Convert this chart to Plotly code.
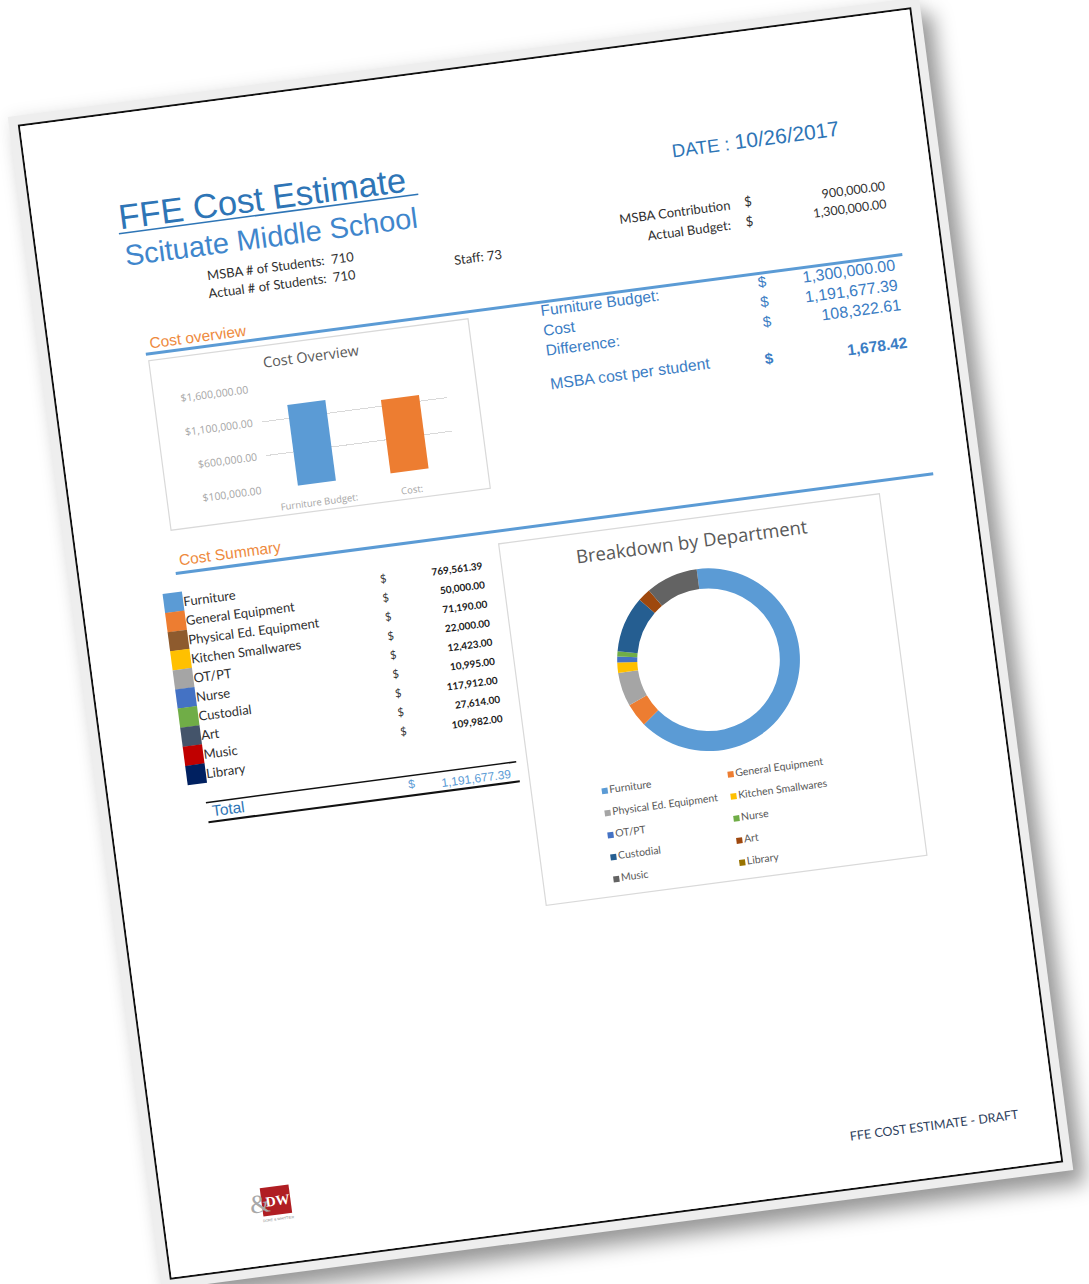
import plotly.graph_objects as go

# ---------------- data ----------------
report_title = "FFE Cost Estimate"
school = "Scituate Middle School"
report_date = "10/26/2017"
msba_students = 710
actual_students = 710
staff = 73
msba_contribution = 900000.00
actual_budget = 1300000.00
furniture_budget = 1300000.00

departments = ["Furniture", "General Equipment", "Physical Ed. Equipment", "Kitchen Smallwares",
               "OT/PT", "Nurse", "Custodial", "Art", "Music", "Library"]
dept_costs = [769561.39, 50000.00, 71190.00, 22000.00, 12423.00, 10995.00,
              117912.00, 27614.00, 109982.00, 0.00]
summary_colors = ["#5B9BD5", "#ED7D31", "#8E5B2E", "#FFC000", "#A5A5A5",
                  "#4472C4", "#70AD47", "#44546A", "#C00000", "#002060"]
donut_colors = ["#5B9BD5", "#ED7D31", "#A5A5A5", "#FFC000", "#4472C4",
                "#70AD47", "#255E91", "#9E480E", "#636363", "#997300"]

overview_labels = ["Furniture Budget:", "Cost:"]
overview_colors = ["#5B9BD5", "#ED7D31"]
overview_ticks = [100000, 600000, 1100000, 1600000]

total_cost = sum(dept_costs)
difference = furniture_budget - total_cost
cost_per_student = total_cost / msba_students
overview_values = [furniture_budget, total_cost]

# ---------------- page geometry helpers ----------------
W, H = 897, 1161


def X(px):
    return px / W


def Y(py):
    return 1 - py / H


def money(v):
    return f"{v:,.2f}"


BLUE = "#2E75B6"
BLUE2 = "#3B7DC4"
ORANGE = "#EE8A3E"
DARK = "#2f2f2f"
GRAY = "#595959"

annotations = []


def note(text, px, base, size, color, anchor="left", family="Liberation Sans", bold=False):
    annotations.append(dict(
        text=f"<b>{text}</b>" if bold else text,
        x=X(px), y=Y(base + 0.22 * size + 1), xref="paper", yref="paper",
        xanchor=anchor, yanchor="bottom", showarrow=False,
        font=dict(size=size, color=color, family=family)))


def cnote(text, px, py, size, color, family="Liberation Sans", bold=False):
    annotations.append(dict(
        text=f"<b>{text}</b>" if bold else text,
        x=X(px), y=Y(py), xref="paper", yref="paper",
        xanchor="center", yanchor="middle", showarrow=False,
        font=dict(size=size, color=color, family=family)))


shapes = []


def hline(x0, x1, py, color, width):
    shapes.append(dict(type="line", xref="paper", yref="paper",
                       x0=X(x0), x1=X(x1), y0=Y(py), y1=Y(py),
                       line=dict(color=color, width=width)))


def box(x0, x1, y0, y1, color, width=1.2, fill=None):
    shapes.append(dict(type="rect", xref="paper", yref="paper",
                       x0=X(x0), x1=X(x1), y0=Y(y1), y1=Y(y0),
                       line=dict(color=color, width=width),
                       fillcolor=fill if fill else "rgba(0,0,0,0)"))


# ---------------- header ----------------
note(report_title, 84, 110, 34.5, BLUE)
hline(84, 386, 113.5, BLUE, 1.5)
note(school, 85, 147, 29, "#3F86CC")
note(f"MSBA # of Students:&nbsp;&nbsp;{msba_students}", 164, 173, 13, DARK, family="Lato")
note(f"Actual # of Students:&nbsp;&nbsp;{actual_students}", 163, 191, 13, DARK, family="Lato")
note(f"Staff: {staff}", 411, 190, 13, DARK, family="Lato")

note(f"DATE :&nbsp;<span style='font-size:21px'>{report_date}</span>", 641, 111, 18.5, BLUE)
note("MSBA Contribution", 696, 171, 13, DARK, anchor="right", family="Lato")
note("$", 706, 170, 13, DARK, family="Lato")
note(money(msba_contribution), 852, 172, 12.5, DARK, anchor="right", family="Lato")
note("Actual Budget:", 694, 191, 13, DARK, anchor="right", family="Lato")
note("$", 705, 190, 13, DARK, family="Lato")
note(money(actual_budget), 851, 191, 12.5, DARK, anchor="right", family="Lato")

# section lines and labels
hline(95, 858, 238, "#5B9BD5", 3)
note("Cost overview", 98, 233, 15.5, ORANGE)
hline(96, 860, 462, "#5B9BD5", 3)
note("Cost Summary", 99, 455, 15.5, ORANGE)

# right info block
rows_info = [("Furniture Budget:", furniture_budget, 253),
             ("Cost", total_cost, 273),
             ("Difference:", difference, 293)]
for lab, val, base in rows_info:
    note(lab, 490, base, 15.5, BLUE2)
    note("$", 709, base, 15, BLUE2)
    note(money(val), 852, base + 1, 16, BLUE2, anchor="right")
note("MSBA cost per student", 490, 328, 15.8, BLUE2)
note("$", 706, 331, 15, BLUE2, bold=True)
note(money(cost_per_student), 853, 333, 15.5, BLUE2, anchor="right", bold=True)

# chart boxes
box(97, 419, 245, 418, "#d9d9d9")
cnote("Cost Overview", 258, 262, 14.5, GRAY, family="Open Sans")
box(420, 804, 475, 844, "#d9d9d9")
cnote("Breakdown by Department", 612, 498, 18.5, GRAY, family="Open Sans")

# totals
hline(96, 409, 696, "#111111", 1.5)
hline(96, 410, 716, "#111111", 2.2)
note("Total", 99, 711, 15.5, BLUE)
note("$", 297, 710, 12, "#5B9BD5")
note(money(total_cost), 404, 713.5, 12, "#5B9BD5", anchor="right")

# footer and logo
note("FFE COST ESTIMATE - DRAFT", 863, 1122, 12.5, "#2d3e5c", anchor="right", family="Lato")
box(99, 128, 1090, 1119, "#B01E23", width=0, fill="#B01E23")
cnote("&", 97, 1106, 26, "#a8a8a8", family="Liberation Serif")
cnote("<b>DW</b>", 115, 1105, 14, "#ffffff", family="Liberation Serif")
cnote("DORE &amp; WHITTIER", 114, 1124, 3.5, "#888888")

# ---------------- traces ----------------
fig = go.Figure()

# bar chart (cost overview)
fig.add_trace(go.Bar(x=overview_labels, y=overview_values, marker=dict(color=overview_colors, line_width=0),
                     width=0.41, xaxis="x", yaxis="y", showlegend=False,
                     hovertemplate="%{x} $%{y:,.2f}<extra></extra>"))

# donut
fig.add_trace(go.Pie(labels=departments, values=dept_costs, hole=0.78, sort=False,
                     direction="clockwise", rotation=0, textinfo="none",
                     marker=dict(colors=donut_colors, line=dict(width=0)),
                     domain=dict(x=[X(613 - 92.5), X(613 + 92.5)], y=[Y(619 + 92.5), Y(619 - 92.5)]),
                     showlegend=False))

# cost summary list (axis 2, page-pixel units)
n = len(departments)
row_py = [481 + 19.5 * (i + 0.5) for i in range(n)]
fig.add_trace(go.Scatter(x=[90] * n, y=row_py, mode="markers", xaxis="x2", yaxis="y2",
                         marker=dict(symbol="square", size=19.5, color=summary_colors, line_width=0),
                         showlegend=False, hoverinfo="skip", cliponaxis=False))
fig.add_trace(go.Scatter(x=[100] * n, y=[p + 2 for p in row_py], mode="text", xaxis="x2", yaxis="y2",
                         text=departments, textposition="middle right",
                         textfont=dict(family="Lato", size=13, color=DARK),
                         marker=dict(size=1), showlegend=False, hoverinfo="skip", cliponaxis=False))
val_idx = [i for i in range(n) if dept_costs[i] > 0]
fig.add_trace(go.Scatter(x=[301] * len(val_idx), y=[row_py[i] + 5 for i in val_idx], mode="text",
                         xaxis="x2", yaxis="y2", text=["$"] * len(val_idx), textposition="middle center",
                         textfont=dict(family="Lato", size=11, color=DARK),
                         marker=dict(size=1), showlegend=False, hoverinfo="skip", cliponaxis=False))
fig.add_trace(go.Scatter(x=[401] * len(val_idx), y=[row_py[i] + 5 for i in val_idx], mode="text",
                         xaxis="x2", yaxis="y2", text=["<b>" + money(dept_costs[i]) + "</b>" for i in val_idx],
                         textposition="middle left",
                         textfont=dict(family="Lato", size=10, color="#1a1a1a"),
                         marker=dict(size=1), showlegend=False, hoverinfo="skip", cliponaxis=False))

# donut legend (axis 3, page-pixel units, two columns)
leg_px = [493 + 127 * (i % 2) for i in range(n)]
leg_py = [737 + 22.5 * (i // 2) for i in range(n)]
fig.add_trace(go.Scatter(x=leg_px, y=leg_py, mode="markers+text", xaxis="x3", yaxis="y3",
                         marker=dict(symbol="square", size=6, color=donut_colors, line_width=0),
                         text=departments, textposition="middle right",
                         textfont=dict(family="Lato", size=10.5, color=GRAY),
                         showlegend=False, hoverinfo="skip", cliponaxis=False))

aux = dict(visible=False, fixedrange=True, showgrid=False, zeroline=False)

fig.update_layout(
    width=W, height=H,
    margin=dict(l=0, r=0, t=0, b=0),
    paper_bgcolor="#ffffff", plot_bgcolor="rgba(0,0,0,0)",
    showlegend=False,
    font=dict(family="Liberation Sans"),
    annotations=annotations,
    shapes=shapes,
    xaxis=dict(domain=[X(201), X(388)], showgrid=False, zeroline=False, showline=False,
               ticks="outside", ticklen=10, tickcolor="rgba(0,0,0,0)",
               tickfont=dict(family="Open Sans", size=9.5, color="#a6a6a6"), fixedrange=True),
    yaxis=dict(domain=[Y(390), Y(287)], range=[100000, 1600000], tickvals=overview_ticks,
               tickformat="$,.2f", showgrid=True, gridcolor="#d9d9d9", gridwidth=1.2,
               zeroline=False, showline=False, ticks="outside", ticklen=6, tickcolor="rgba(0,0,0,0)",
               tickfont=dict(family="Open Sans", size=10.5, color="#a6a6a6"), fixedrange=True),
    xaxis2=dict(domain=[X(60), X(430)], range=[60, 430], anchor="y2", **aux),
    yaxis2=dict(domain=[Y(690), Y(470)], range=[690, 470], anchor="x2", **aux),
    xaxis3=dict(domain=[X(470), X(800)], range=[470, 800], anchor="y3", **aux),
    yaxis3=dict(domain=[Y(845), Y(720)], range=[845, 720], anchor="x3", **aux),
)

page_css = """
var gd = document.getElementById('{plot_id}');
document.documentElement.style.background = '#ffffff';
document.body.style.margin = '0';
document.body.style.overflow = 'hidden';
gd.style.position = 'absolute';
gd.style.left = '91.5px';
gd.style.top = '63px';
gd.style.transformOrigin = '50% 50%';
gd.style.transform = 'rotate(-7.5deg)';
gd.style.outline = '2.5px solid #111111';
gd.style.background = '#ffffff';
gd.style.boxShadow = '0 0 0 11px #eeeeee, 12px 16px 20px 10px rgba(0,0,0,0.38), 0 0 16px 12px rgba(0,0,0,0.07)';
"""

fig.write_html("out.html", config={"displayModeBar": False}, post_script=page_css)
